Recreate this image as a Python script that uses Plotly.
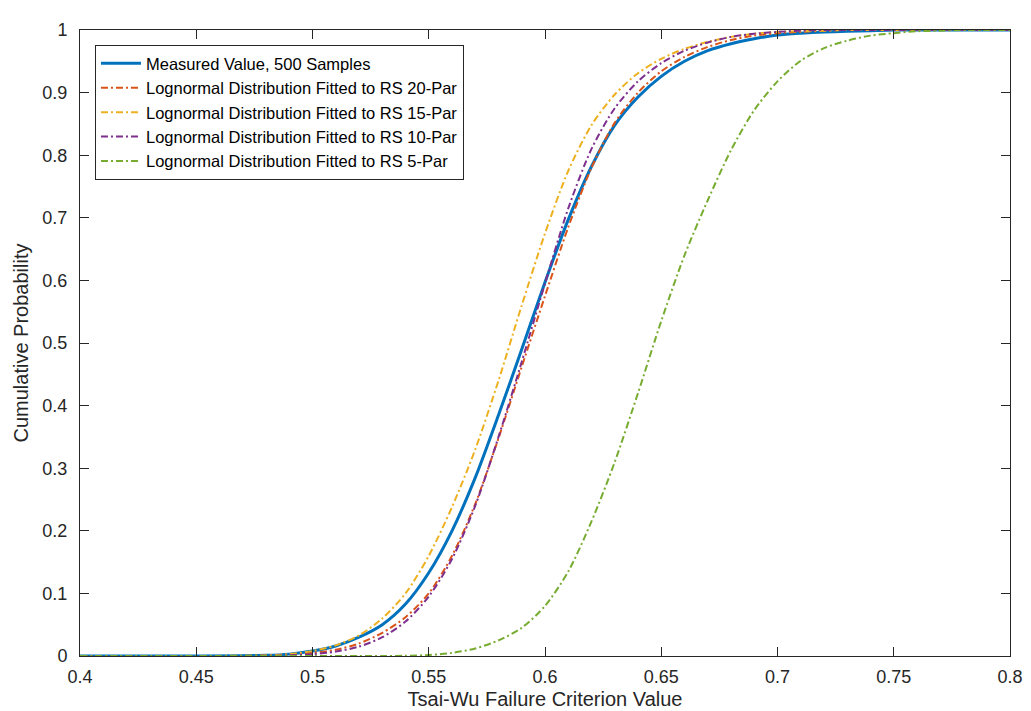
import plotly.graph_objects as go

# x grid (Tsai-Wu failure criterion value)
x_vals = [0.40, 0.45, 0.48, 0.49, 0.50, 0.51, 0.52, 0.53, 0.54, 0.55, 0.56, 0.57,
          0.58, 0.59, 0.60, 0.61, 0.62, 0.63, 0.64, 0.65, 0.66, 0.67, 0.68, 0.69,
          0.70, 0.71, 0.72, 0.73, 0.74, 0.75, 0.76, 0.77, 0.78, 0.80]

measured = [0.0, 0.0, 0.001, 0.003, 0.008, 0.016, 0.030, 0.050, 0.083, 0.133, 0.200, 0.285,
            0.385, 0.490, 0.597, 0.697, 0.782, 0.848, 0.893, 0.926, 0.950, 0.967, 0.978, 0.986,
            0.992, 0.995, 0.997, 0.998, 0.999, 1.0, 1.0, 1.0, 1.0, 1.0]

rs20 = [0.0, 0.0, 0.0005, 0.002, 0.005, 0.010, 0.020, 0.037, 0.062, 0.100, 0.160, 0.243,
        0.348, 0.462, 0.575, 0.685, 0.780, 0.852, 0.900, 0.934, 0.957, 0.973, 0.984, 0.991,
        0.995, 0.997, 0.999, 1.0, 1.0, 1.0, 1.0, 1.0, 1.0, 1.0]

rs15 = [0.0, 0.0, 0.001, 0.003, 0.008, 0.017, 0.033, 0.060, 0.100, 0.160, 0.238, 0.330,
        0.440, 0.560, 0.675, 0.775, 0.848, 0.897, 0.931, 0.954, 0.970, 0.981, 0.989, 0.994,
        0.997, 0.998, 0.999, 1.0, 1.0, 1.0, 1.0, 1.0, 1.0, 1.0]

rs10 = [0.0, 0.0, 0.0003, 0.001, 0.003, 0.007, 0.015, 0.030, 0.055, 0.095, 0.155, 0.240,
        0.350, 0.470, 0.595, 0.715, 0.810, 0.875, 0.918, 0.947, 0.967, 0.980, 0.989, 0.994,
        0.997, 0.999, 1.0, 1.0, 1.0, 1.0, 1.0, 1.0, 1.0, 1.0]

rs5 = [0.0, 0.0, 0.0, 0.0, 0.0, 0.0, 0.0, 0.0, 0.0003, 0.0015, 0.005, 0.012,
       0.025, 0.045, 0.080, 0.135, 0.215, 0.310, 0.420, 0.535, 0.640, 0.728, 0.808, 0.872,
       0.918, 0.951, 0.971, 0.983, 0.991, 0.995, 0.998, 0.999, 1.0, 1.0]

series_names = ["Measured Value, 500 Samples",
                "Lognormal Distribution Fitted to RS 20-Par",
                "Lognormal Distribution Fitted to RS 15-Par",
                "Lognormal Distribution Fitted to RS 10-Par",
                "Lognormal Distribution Fitted to RS 5-Par"]
series_vals = [measured, rs20, rs15, rs10, rs5]
colors = ["#0072BD", "#D95319", "#EDB120", "#7E2F8E", "#77AC30"]

x_ticks = [0.4, 0.45, 0.5, 0.55, 0.6, 0.65, 0.7, 0.75, 0.8]
y_ticks = [0, 0.1, 0.2, 0.3, 0.4, 0.5, 0.6, 0.7, 0.8, 0.9, 1]

fig = go.Figure()
for i, (name, vals, col) in enumerate(zip(series_names, series_vals, colors)):
    if i == 0:
        line = dict(color=col, width=3, shape="spline", smoothing=0.8)
    else:
        line = dict(color=col, width=2, dash="7px,3px,2px,3px", shape="spline", smoothing=0.8)
    fig.add_trace(go.Scatter(x=x_vals, y=vals, mode="lines", name=name, line=line))

axis_col = "#262626"
font_family = "Liberation Sans, Arial, sans-serif"

fig.update_layout(
    width=1031, height=711,
    margin=dict(l=72, r=29, t=14, b=62),
    paper_bgcolor="white", plot_bgcolor="white",
    font=dict(family=font_family, color=axis_col, size=18),
    showlegend=True,
    legend=dict(
        x=0.0161, y=0.976, xanchor="left", yanchor="top",
        bgcolor="white", bordercolor=axis_col, borderwidth=1,
        font=dict(size=16.5, color="black", family=font_family),
        tracegroupgap=0, itemwidth=40,
    ),
)
fig.update_xaxes(
    range=[0.4, 0.8], tickvals=x_ticks, ticktext=[f"{v:g}" for v in x_ticks],
    showgrid=False, zeroline=False, showline=True, linecolor=axis_col, linewidth=1,
    mirror="ticks", ticks="inside", ticklen=9, tickcolor=axis_col,
    tickfont=dict(size=18, color=axis_col), ticklabelstandoff=4,
    title=dict(text="Tsai-Wu Failure Criterion Value", font=dict(size=20, color=axis_col), standoff=6),
)
fig.update_yaxes(
    range=[0, 1], tickvals=y_ticks, ticktext=[f"{v:g}" for v in y_ticks],
    showgrid=False, zeroline=False, showline=True, linecolor=axis_col, linewidth=1,
    mirror="ticks", ticks="inside", ticklen=9, tickcolor=axis_col,
    tickfont=dict(size=18, color=axis_col), ticklabelstandoff=8,
    title=dict(text="Cumulative Probability", font=dict(size=20, color=axis_col), standoff=8),
)

fig.write_html("out.html")
